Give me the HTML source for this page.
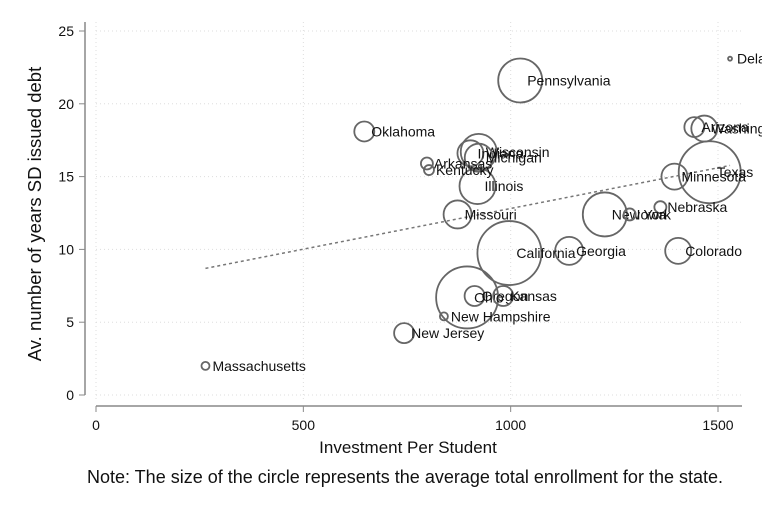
<!DOCTYPE html>
<html><head><meta charset="utf-8"><style>
body{margin:0;background:#fff;}
svg text{font-family:"Liberation Sans",Arial,sans-serif;fill:#111;}
</style></head><body>
<svg width="762" height="508" viewBox="0 0 762 508">
<g id="grid"></g>
<g id="axes"></g>
<g id="fit"></g>
<g id="pts"></g>
<text x="408" y="453" text-anchor="middle" font-size="17">Investment Per Student</text>
<text transform="translate(41,214) rotate(-90)" text-anchor="middle" font-size="18.5">Av. number of years SD issued debt</text>
<text x="405" y="483" text-anchor="middle" font-size="18">Note: The size of the circle represents the average total enrollment for the state.</text>
</svg>
<script>
const states=["Delaware","Pennsylvania","Oklahoma","Arizona","Washington","Texas","Minnesota","Nebraska","New York","Iowa","Colorado","Georgia","California","Missouri","Illinois","Indiana","Wisconsin","Michigan","Arkansas","Kentucky","Oregon","Ohio","Kansas","New Hampshire","New Jersey","Massachusetts"];
const investment=[1529,1023,647,1443,1467,1480,1395,1361,1227,1287,1404,1141,997,872,920,903,923,923,798,803,913,895,982,839,743,264];
const debtYears=[23.1,21.6,18.1,18.4,18.3,15.3,15.0,12.9,12.4,12.4,9.9,9.9,9.75,12.4,14.35,16.6,16.7,16.3,15.9,15.45,6.8,6.7,6.8,5.4,4.25,2.0];
const enrollment=[4,484,100,100,169,961,169,36,484,36,169,196,1024,196,324,169,324,196,36,25,100,961,100,16,100,16];
const xTicks=[0,500,1000,1500];
const yTicks=[0,5,10,15,20,25];
const fitCoef=[7.22,0.00559];
const NS="http://www.w3.org/2000/svg";
const X=v=>96+v*0.41467, Y=v=>395-v*14.56;
function mk(t,a,p){const e=document.createElementNS(NS,t);for(const k in a)e.setAttribute(k,a[k]);p.appendChild(e);return e;}
const grid=document.getElementById('grid'),axes=document.getElementById('axes');
yTicks.forEach(t=>{
 const g=mk('line',{x1:96,x2:742,y1:Y(t),y2:Y(t),stroke:'#ddd','stroke-dasharray':'1 3'},grid);
 
 
 const k=mk('line',{x1:79,x2:85,y1:Y(t),y2:Y(t),stroke:'#888'},axes);
 
 
 const l=mk('text',{x:74,y:Y(t)+5,'text-anchor':'end','font-size':'14'},axes);l.textContent=t;
 
 
});
xTicks.forEach(t=>{
 const g=mk('line',{x1:X(t),x2:X(t),y1:22,y2:400,stroke:'#ddd','stroke-dasharray':'1 3'},grid);
 
 
 const k=mk('line',{x1:X(t),x2:X(t),y1:406,y2:412,stroke:'#888'},axes);
 
 
 const l=mk('text',{x:X(t),y:430,'text-anchor':'middle','font-size':'14'},axes);l.textContent=t;
 
 
});
const ya=mk('line',{x1:85,x2:85,y1:22,y2:395,stroke:'#888','stroke-width':1.5},axes);


const xa=mk('line',{x1:96,x2:742,y1:406,y2:406,stroke:'#888','stroke-width':1.5},axes);


const xmin=Math.min(...investment),xmax=Math.max(...investment);
const fl=mk('line',{x1:X(xmin),y1:Y(fitCoef[0]+fitCoef[1]*xmin),x2:X(xmax),y2:Y(fitCoef[0]+fitCoef[1]*xmax),stroke:'#777','stroke-width':1.5,'stroke-dasharray':'3 3'},document.getElementById('fit'));


const pts=document.getElementById('pts');
states.forEach((s,i)=>{
 const cx=X(investment[i]),cy=Y(debtYears[i]),r=Math.sqrt(enrollment[i]);
 const c=mk('circle',{cx:cx,cy:cy,r:r,fill:'none',stroke:'#666','stroke-width':1.8},pts);
 
 
 const t=mk('text',{x:cx+7,y:cy+5,'font-size':'14'},pts);t.textContent=s;
 
 
});
</script>
</body></html>
